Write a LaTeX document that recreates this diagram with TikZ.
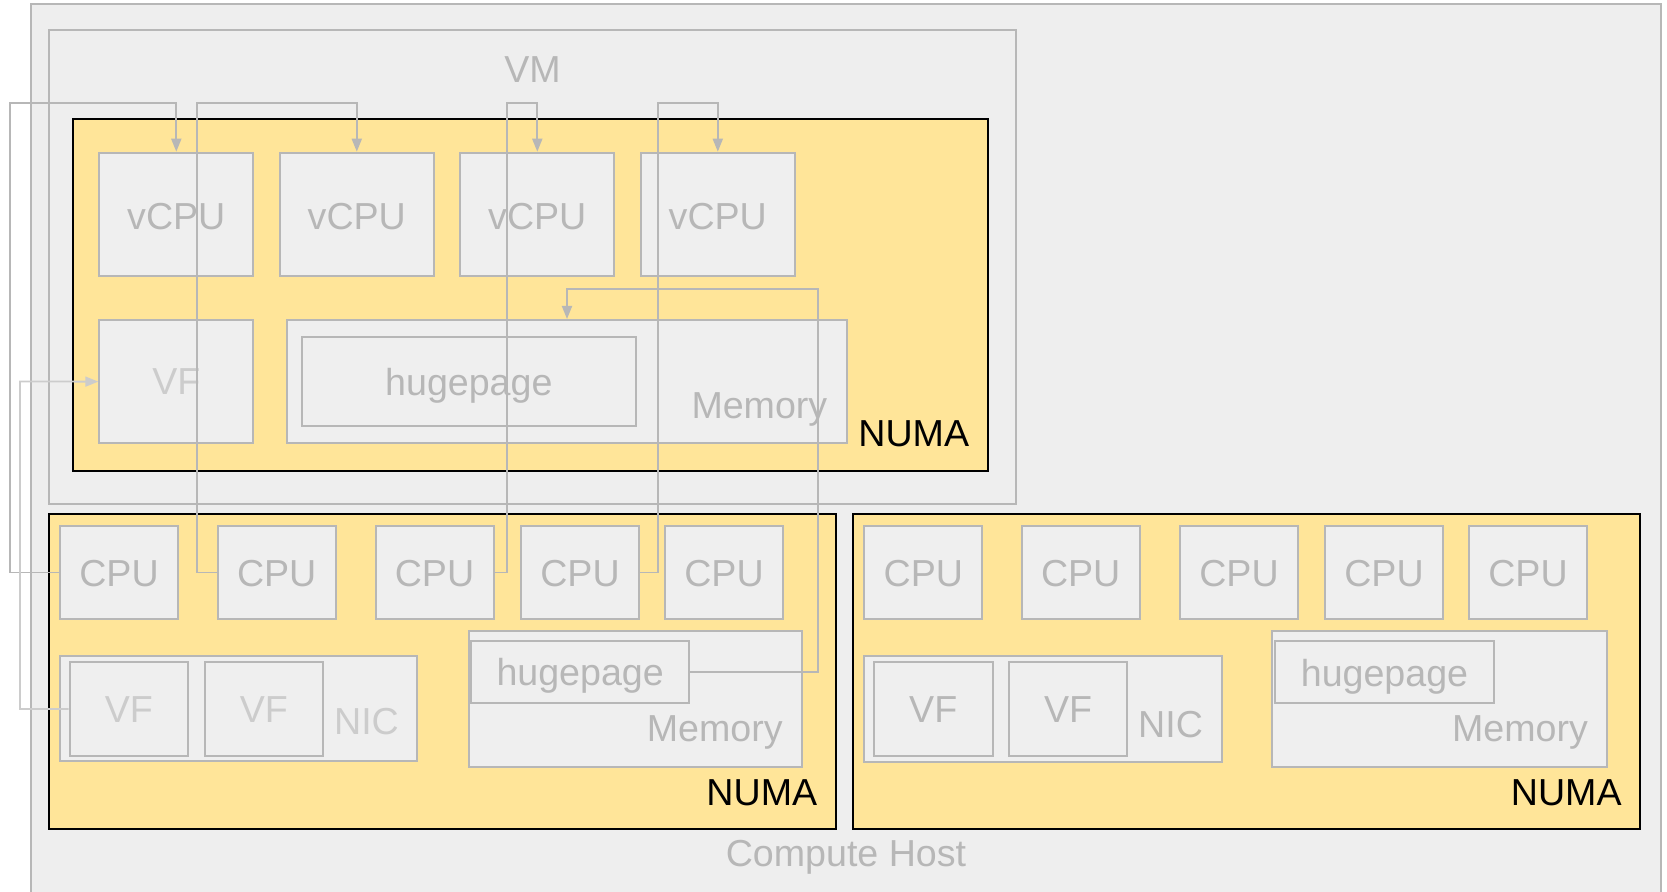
\documentclass[tikz,border=0pt]{standalone}
\usepackage{fontspec}
\setmainfont{Liberation Sans}
\usetikzlibrary{fit,arrows.meta,calc}
\definecolor{bg}{HTML}{EEEEEE}
\definecolor{boxfill}{HTML}{EFEFEF}
\definecolor{edge}{HTML}{B7B7B7}
\definecolor{light}{HTML}{CCCCCC}
\definecolor{numa}{HTML}{FFE599}
\tikzset{
  frame/.style={draw=edge, line width=1pt, fill=boxfill, inner sep=0pt},
  hostbox/.style={draw=edge, line width=1pt, fill=bg, inner sep=0pt},
  numabox/.style={draw=black, line width=1pt, fill=numa, inner sep=0pt},
  lbl/.style={text=edge, inner sep=0pt, anchor=base, font=\fontsize{18.8}{22}\selectfont},
  lightlbl/.style={lbl, text=light},
  cornerlbl/.style={lbl, anchor=base east},
  numalbl/.style={lbl, text=black, anchor=base east},
  link/.style={draw=edge, line width=0.9pt, -{Triangle[length=6.5pt,width=5pt]}},
  lightlink/.style={link, draw=light},
}
\begin{document}
\begin{tikzpicture}[x=0.5pt,y=-0.5pt]
\useasboundingbox (0,0) rectangle (1667,892);
\fill[white] (0,0) rectangle (1667,892);
\clip (0,0) rectangle (1667,892);
% Compute host
\node[hostbox, fit={(31,4)(1661,910)}] (host) {};
\node[lbl] (hostlbl) at (846,867) {Compute Host};
% VM
\node[hostbox, fit={(49,30)(1015.5,504)}] (vm) {};
\node[lbl] (vmlbl) at (532.5,83) {VM};
% VM NUMA
\node[numabox, fit={(72.7,119.3)(987.5,471)}] (vnuma) {};
\node[numalbl] (vnumalbl) at ($(vnuma.south east)+(-19,-25)$) {NUMA};
% vCPUs
\foreach \i/\x in {1/99.3,2/279.8,3/460.3,4/640.8}{
  \node[frame, fit={(\x,152.7)(\x+154,276)}] (v\i) {};
  \node[lbl] (v\i lbl) at ($(v\i.center)+(0,15)$) {vCPU};
}
% VM VF
\node[frame, fit={(99.3,320)(253.3,443.3)}] (vvf) {};
\node[lightlbl] (vvflbl) at ($(vvf.center)+(0,13)$) {VF};
% VM memory
\node[frame, fit={(287.3,320)(846.7,443.3)}] (vmem) {};
\node[frame, fit={(301.7,337)(636,426)}] (vhp) {};
\node[lbl] (vhplbl) at ($(vhp.center)+(0,14)$) {hugepage};
\node[cornerlbl] (vmemlbl) at ($(vmem.south east)+(-20,-26)$) {Memory};
% Host NUMA 1
\node[numabox, fit={(49,513.7)(835.6,829.3)}] (n1) {};
\node[numalbl] (n1lbl) at ($(n1.south east)+(-19,-25)$) {NUMA};
\foreach \i/\x in {1/60,2/217.7,3/375.5,4/521,5/665}{
  \node[frame, fit={(\x,526)(\x+118,619)}] (c\i) {};
  \node[lbl] (c\i lbl) at ($(c\i.center)+(0,14)$) {CPU};
}
\node[frame, fit={(60,656)(417.3,761)}] (nic1) {};
\node[frame, fit={(69.7,662.3)(188,755.7)}] (nvf1) {};
\node[frame, fit={(204.7,662.3)(323,755.7)}] (nvf2) {};
\node[lightlbl] (nvf1lbl) at ($(nvf1.center)+(0,14)$) {VF};
\node[lightlbl] (nvf2lbl) at ($(nvf2.center)+(0,14)$) {VF};
\node[cornerlbl, text=light] (nic1lbl) at ($(nic1.south east)+(-19,-27)$) {NIC};
\node[frame, fit={(468.7,631)(802,766.7)}] (mem1) {};
\node[frame, fit={(471.3,641)(689,702.7)}] (hp1) {};
\node[lbl] (hp1lbl) at ($(hp1.center)+(0,14)$) {hugepage};
\node[cornerlbl] (mem1lbl) at ($(mem1.south east)+(-20,-26)$) {Memory};
% Host NUMA 2
\node[numabox, fit={(853.3,513.7)(1640,829.3)}] (n2) {};
\node[numalbl] (n2lbl) at ($(n2.south east)+(-19,-25)$) {NUMA};
\foreach \i/\x in {1/864.3,2/1021.7,3/1180,4/1325,5/1469}{
  \node[frame, fit={(\x,526)(\x+118,619)}] (d\i) {};
  \node[lbl] (d\i lbl) at ($(d\i.center)+(0,14)$) {CPU};
}
\node[frame, fit={(864,656)(1222.3,761.7)}] (nic2) {};
\node[frame, fit={(873.7,662.3)(992.7,755.7)}] (mvf1) {};
\node[frame, fit={(1009,662.3)(1127.3,755.7)}] (mvf2) {};
\node[lbl] (mvf1lbl) at ($(mvf1.center)+(0,14)$) {VF};
\node[lbl] (mvf2lbl) at ($(mvf2.center)+(0,14)$) {VF};
\node[cornerlbl] (nic2lbl) at ($(nic2.south east)+(-20,-25)$) {NIC};
\node[frame, fit={(1272.3,631.3)(1607.3,767)}] (mem2) {};
\node[frame, fit={(1275.3,641.3)(1493.7,703)}] (hp2) {};
\node[lbl] (hp2lbl) at ($(hp2.center)+(0,14)$) {hugepage};
\node[cornerlbl] (mem2lbl) at ($(mem2.south east)+(-20,-26)$) {Memory};
% connectors
\coordinate (k1) at (10,103);
\coordinate (k2) at (196.7,103);
\coordinate (k3) at (506.7,103);
\coordinate (k4) at (658.3,103);
\coordinate (k5) at (818,289);
\coordinate (k6) at (20,381.5);
\draw[link] (c1.west) -| (k1) -| (v1.north);
\draw[link] (c2.west) -| (k2) -| (v2.north);
\draw[link] (c3.east) -| (k3) -| (v3.north);
\draw[link] (c4.east) -| (k4) -| (v4.north);
\draw[link] (hp1.east) -| (k5) -| (vmem.north);
\draw[lightlink] (nvf1.west) -| (k6) -- (vvf.west);
\end{tikzpicture}
\end{document}
